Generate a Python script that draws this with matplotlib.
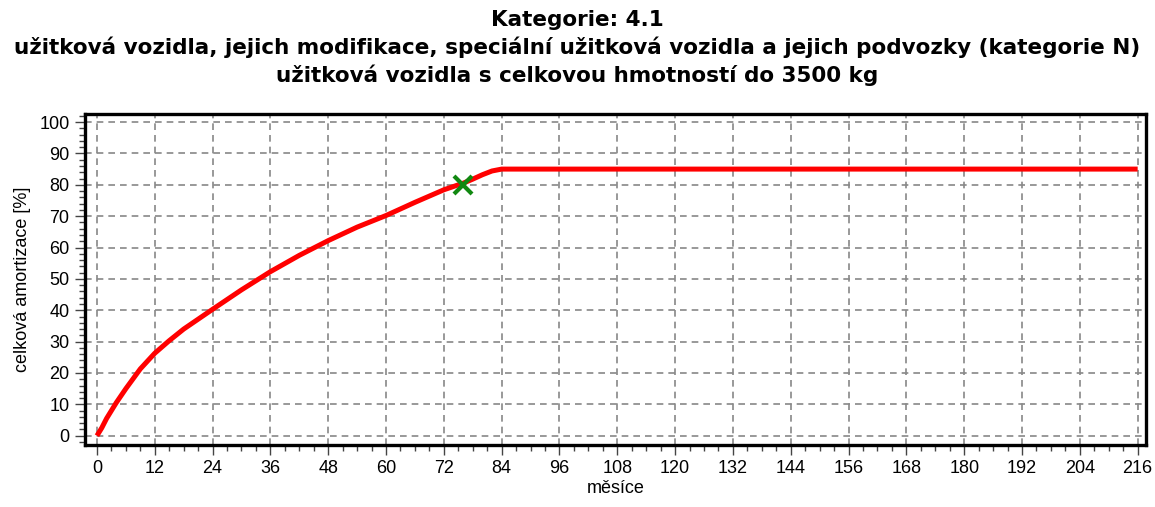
import matplotlib.pyplot as plt
from matplotlib.ticker import MultipleLocator

# values
months = [0, 1, 2, 3, 4, 6, 9, 12, 15, 18, 24, 30, 36, 42, 48, 54, 60, 66, 72, 76, 78, 80, 82, 84, 216]
amort = [0, 2.5, 5.5, 8, 10.5, 15, 21.3, 26.3, 30.3, 34, 40.3, 46.5, 52.3, 57.5, 62.2, 66.5, 70.2, 74.4, 78.4, 80.5, 81.8, 83.2, 84.4, 85, 85]

mark_month = [76]
mark_value = [80]

title_lines = [
    "Kategorie: 4.1",
    "užitková vozidla, jejich modifikace, speciální užitková vozidla a jejich podvozky (kategorie N)",
    "užitková vozidla s celkovou hmotností do 3500 kg",
]
xticks = list(range(0, 217, 12))
yticks = list(range(0, 101, 10))

plt.rcParams['font.family'] = ['Liberation Sans', 'DejaVu Sans']

fig = plt.figure(figsize=(11.55, 5.07), dpi=100)
ax = fig.add_axes([0.0735, 0.122, 0.919, 0.654])

ax.plot(months, amort, color='#ff0000', linewidth=3.6, solid_capstyle='butt', zorder=3)
ax.plot(mark_month, mark_value, linestyle='none', marker='x', color='#118811',
        markersize=13, markeredgewidth=3, zorder=4)

ax.set_xlim(-2.5, 217.8)
ax.set_ylim(-3.0, 102.7)
ax.set_xticks(xticks)
ax.set_yticks(yticks)
ax.xaxis.set_minor_locator(MultipleLocator(3))
ax.yaxis.set_minor_locator(MultipleLocator(2))
ax.tick_params(which='major', direction='out', length=7, width=1, color='#444444', labelsize=13, pad=4)
ax.tick_params(which='minor', direction='out', length=4, width=1, color='#444444')
ax.grid(True, which='major', color='#888888', linestyle=(0, (4, 3)), linewidth=1.2)

for s in ax.spines.values():
    s.set_linewidth(2.4)
    s.set_color('black')

ax.set_xlabel("měsíce", fontsize=13, labelpad=2)
ax.set_ylabel("celková amortizace [%]", fontsize=13, labelpad=6)

# title lines placed one by one to get the wide spacing of the original
for i, line in enumerate(title_lines):
    fig.text(0.5, 1 - (20 + 27.5 * i) / 507, line, ha='center', va='center',
             fontsize=15.5, fontweight='bold', family=['DejaVu Sans'])

fig.savefig("out.png", dpi=100)
